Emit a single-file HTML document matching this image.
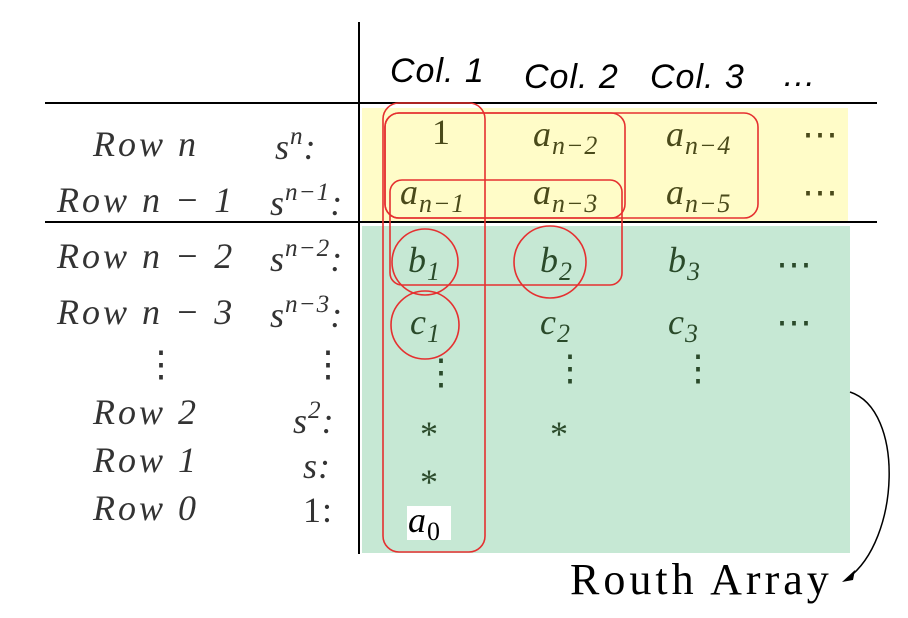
<!DOCTYPE html>
<html><head><meta charset="utf-8"><style>
body{margin:0;width:908px;height:618px;background:#fff;position:relative;overflow:hidden;font-family:"Liberation Serif",serif}
.t{position:absolute;white-space:nowrap;line-height:1}
.m{font-style:italic;font-size:36px;color:#333;letter-spacing:1px}
.r{letter-spacing:3px}
.g{color:#2a4a2a}
.y{color:#4a4a1a}
.n{font-style:normal}
.c{font-family:"Liberation Sans",sans-serif;font-style:italic;font-size:34px;color:#000;letter-spacing:1px}
sub{font-size:72%;vertical-align:-0.3em;font-style:italic}
sup{font-size:70%;vertical-align:0.6em}
</style></head><body>
<div style="position:absolute;left:362px;top:108px;width:486px;height:113px;background:#fffcc8"></div>
<div style="position:absolute;left:362px;top:226px;width:488px;height:327px;background:#c6e8d4"></div>
<div style="position:absolute;left:358px;top:22px;width:2px;height:532px;background:#000"></div>
<div style="position:absolute;left:45px;top:102px;width:832px;height:2px;background:#000"></div>
<div style="position:absolute;left:45px;top:221px;width:832px;height:2px;background:#000"></div>

<div class="t c" style="left:390px;top:54px">Col. 1</div>
<div class="t c" style="left:524px;top:60px">Col. 2</div>
<div class="t c" style="left:650px;top:60px">Col. 3</div>
<div class="t c" style="left:782px;top:58px">…</div>

<div class="t m r" style="left:93px;top:126px">Row n</div>
<div class="t m r" style="left:57px;top:182px">Row n − 1</div>
<div class="t m r" style="left:57px;top:238px">Row n − 2</div>
<div class="t m r" style="left:57px;top:294px">Row n − 3</div>
<div class="t m n" style="left:143px;top:346px">⋮</div>
<div class="t m r" style="left:93px;top:394px">Row 2</div>
<div class="t m r" style="left:93px;top:442px">Row 1</div>
<div class="t m r" style="left:93px;top:490px">Row 0</div>

<div class="t m" style="left:275px;top:124px">s<sup>n</sup>:</div>
<div class="t m" style="left:270px;top:180px">s<sup>n−1</sup>:</div>
<div class="t m" style="left:270px;top:236px">s<sup>n−2</sup>:</div>
<div class="t m" style="left:270px;top:292px">s<sup>n−3</sup>:</div>
<div class="t m n" style="left:310px;top:346px">⋮</div>
<div class="t m" style="left:293px;top:398px">s<sup>2</sup>:</div>
<div class="t m" style="left:303px;top:448px">s:</div>
<div class="t m n" style="left:303px;top:492px">1:</div>

<div class="t m y n" style="left:432px;top:114px">1</div>
<div class="t m y" style="left:533px;top:116px">a<sub>n−2</sub></div>
<div class="t m y" style="left:666px;top:116px">a<sub>n−4</sub></div>
<div class="t m y n" style="left:802px;top:116px">⋯</div>
<div class="t m y" style="left:400px;top:174px">a<sub>n−1</sub></div>
<div class="t m y" style="left:533px;top:174px">a<sub>n−3</sub></div>
<div class="t m y" style="left:666px;top:174px">a<sub>n−5</sub></div>
<div class="t m y n" style="left:802px;top:174px">⋯</div>

<div class="t m g" style="left:408px;top:242px">b<sub>1</sub></div>
<div class="t m g" style="left:540px;top:242px">b<sub>2</sub></div>
<div class="t m g" style="left:668px;top:242px">b<sub>3</sub></div>
<div class="t m g n" style="left:776px;top:246px">⋯</div>
<div class="t m g" style="left:410px;top:304px">c<sub>1</sub></div>
<div class="t m g" style="left:540px;top:304px">c<sub>2</sub></div>
<div class="t m g" style="left:668px;top:304px">c<sub>3</sub></div>
<div class="t m g n" style="left:776px;top:304px">⋯</div>
<div class="t m g n" style="left:423px;top:354px">⋮</div>
<div class="t m g n" style="left:552px;top:350px">⋮</div>
<div class="t m g n" style="left:680px;top:350px">⋮</div>
<div class="t m g n" style="left:420px;top:416px">*</div>
<div class="t m g n" style="left:550px;top:416px">*</div>
<div class="t m g n" style="left:420px;top:464px">*</div>
<div style="position:absolute;left:407px;top:506px;width:44px;height:34px;background:#fff"></div>
<div class="t m" style="left:408px;top:502px;color:#000">a<sub class="n">0</sub></div>

<div class="t" style="left:570px;top:558px;font-size:44px;letter-spacing:4px;color:#000">Routh Array</div>

<svg width="908" height="618" style="position:absolute;left:0;top:0">
<g fill="none" stroke="#e53030" stroke-width="1.6">
<rect x="383" y="103" width="102" height="449" rx="16"/>
<rect x="385" y="113" width="240" height="105" rx="14"/>
<rect x="385" y="113" width="373" height="105" rx="14"/>
<rect x="390" y="180" width="232" height="105" rx="12"/>
<circle cx="425" cy="262" r="33"/>
<circle cx="550" cy="262" r="36"/>
<circle cx="425" cy="325" r="34"/>
</g>
<path d="M850 392 C905 410 900 540 848 578" fill="none" stroke="#000" stroke-width="1.5"/>
<path d="M842 582 L855 570 L853 580 Z" fill="#000"/>
</svg>
</body></html>
